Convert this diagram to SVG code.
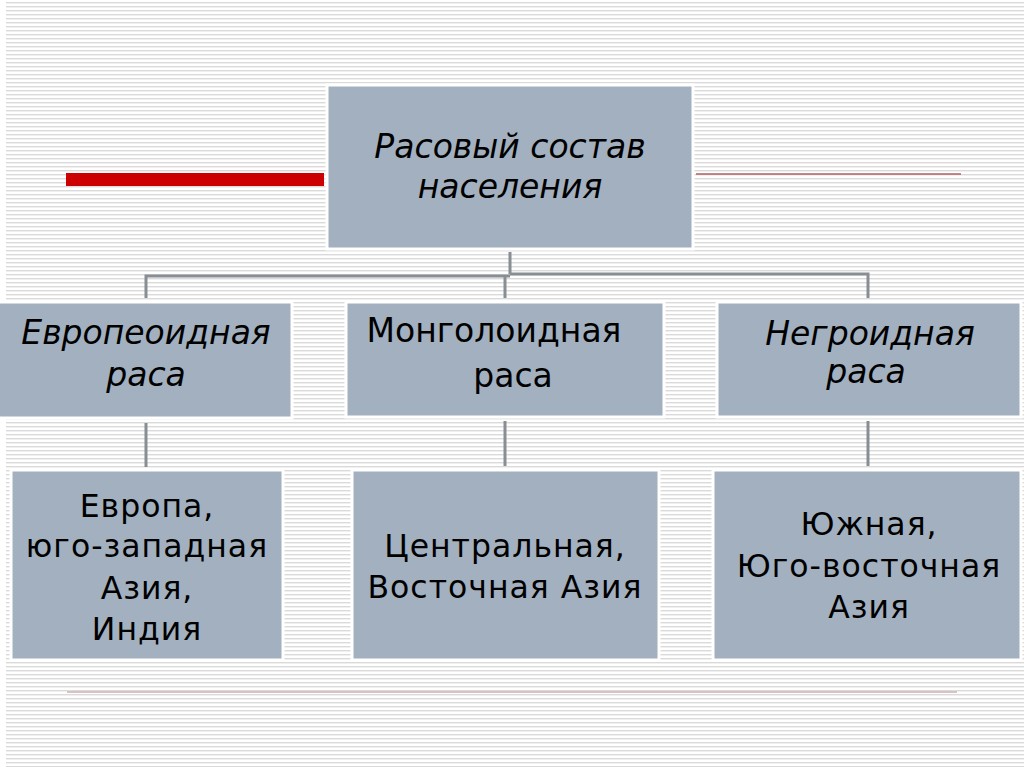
<svg xmlns="http://www.w3.org/2000/svg" width="1024" height="767" viewBox="0 0 1024 767">
<defs>
<pattern id="stripes" x="0" y="0" width="8" height="4" patternUnits="userSpaceOnUse">
<rect width="8" height="4" fill="#ffffff"/>
<rect y="2" width="8" height="1.4" fill="#dadada"/>
</pattern>
</defs>
<style>
.box{fill:#a2b0bf;stroke:#ffffff;stroke-width:3}
.conn{stroke:#888e94;stroke-width:3;fill:none}
text{font-family:"DejaVu Sans","Verdana",sans-serif;fill:#000;text-anchor:middle}
.it{font-style:italic;font-size:33px}
.hd{font-size:33px}
.bt{font-size:31.5px;letter-spacing:1px}
</style>
<rect width="1024" height="767" fill="url(#stripes)"/>
<rect x="0" y="0" width="6" height="767" fill="#ffffff"/>
<rect x="66" y="173" width="258" height="13" fill="#cc0000"/>
<line x1="696" y1="174" x2="961" y2="174" stroke="#b06060" stroke-width="1.5"/>
<line x1="67" y1="692" x2="957" y2="692" stroke="#d8c2c2" stroke-width="2"/>
<g id="connectors">
<path class="conn" d="M510 252 V274 M146 298 V276 H510 M510 274 H868 V298 M505 276 V298"/>
<path class="conn" d="M146 423 V467 M505 421 V466 M868 421 V466"/>
</g>
<g id="root">
<rect class="box" x="327" y="85" width="366" height="164"/>
<text class="it" x="510" y="158">Расовый состав</text>
<text class="it" x="510" y="198">населения</text>
</g>
<g id="europeoid">
<rect class="box" x="-2" y="302" width="294" height="116"/>
<text class="it" x="146" y="344">Европеоидная</text>
<text class="it" x="146" y="386">раса</text>
</g>
<g id="mongoloid">
<rect class="box" x="346" y="302" width="318" height="115"/>
<text class="hd" x="494" y="342">Монголоидная</text>
<text class="hd" x="513" y="387">раса</text>
</g>
<g id="negroid">
<rect class="box" x="717" y="302" width="304" height="115"/>
<text class="it" x="870" y="345">Негроидная</text>
<text class="it" x="866" y="383">раса</text>
</g>
<g id="europe-areas">
<rect class="box" x="11" y="470" width="272" height="190"/>
<text class="bt" x="147" y="517">Европа,</text>
<text class="bt" x="147" y="557">юго-западная</text>
<text class="bt" x="147" y="599">Азия,</text>
<text class="bt" x="147" y="640">Индия</text>
</g>
<g id="mongol-areas">
<rect class="box" x="352" y="470" width="307" height="190"/>
<text class="bt" x="505" y="557">Центральная,</text>
<text class="bt" x="505" y="598">Восточная Азия</text>
</g>
<g id="negro-areas">
<rect class="box" x="713" y="470" width="308" height="190"/>
<text class="bt" x="869" y="535">Южная,</text>
<text class="bt" x="869" y="577">Юго-восточная</text>
<text class="bt" x="869" y="618">Азия</text>
</g>
</svg>
